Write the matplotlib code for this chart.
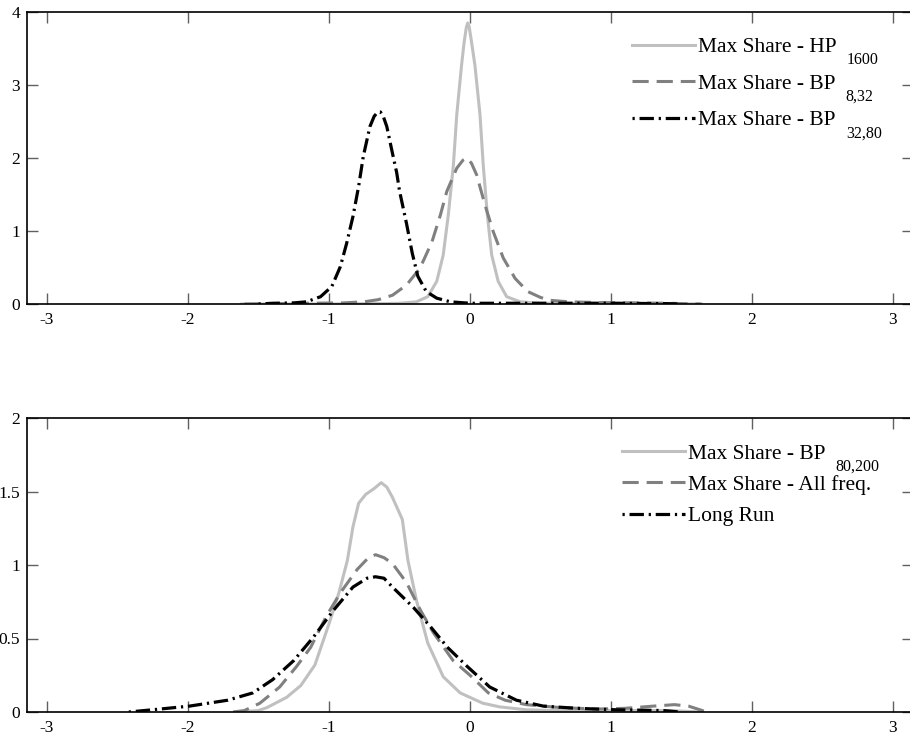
import matplotlib
matplotlib.use("Agg")
import matplotlib.pyplot as plt
from matplotlib.font_manager import FontProperties

plt.rcParams['font.family'] = ['Liberation Serif', 'DejaVu Serif']
plt.rcParams['axes.unicode_minus'] = False

# ---------------- top panel data ----------------
hp1600_x = [-1.62, -1.0, -0.6, -0.5, -0.38, -0.30, -0.236, -0.19, -0.154, -0.118, -0.094,
            -0.06, -0.042, -0.026, -0.016, -0.006, 0.01, 0.035, 0.071, 0.094, 0.123, 0.154,
            0.20, 0.26, 0.355, 0.5, 1.0, 1.3, 1.64]
hp1600_y = [0.0, 0.0, 0.005, 0.01, 0.03, 0.10, 0.31, 0.67, 1.22, 1.90, 2.59,
            3.27, 3.58, 3.79, 3.85, 3.80, 3.60, 3.27, 2.59, 1.90, 1.22, 0.67,
            0.31, 0.10, 0.03, 0.01, 0.01, 0.005, 0.0]

bp832_x = [-1.6, -1.2, -0.9, -0.75, -0.65, -0.55, -0.45, -0.355, -0.27, -0.21, -0.165,
           -0.094, -0.05, -0.023, 0.01, 0.047, 0.106, 0.165, 0.236, 0.32, 0.41, 0.5,
           0.57, 0.7, 0.9, 1.2, 1.4, 1.64]
bp832_y = [0.0, 0.01, 0.015, 0.03, 0.06, 0.12, 0.26, 0.49, 0.85, 1.22, 1.54,
           1.86, 1.97, 2.0, 1.93, 1.77, 1.36, 0.99, 0.63, 0.35, 0.17, 0.09,
           0.05, 0.03, 0.02, 0.015, 0.01, 0.0]

bp3280_x = [-1.5, -1.4, -1.25, -1.16, -1.06, -0.98, -0.92, -0.875, -0.83, -0.79, -0.757,
            -0.71, -0.68, -0.655, -0.635, -0.615, -0.59, -0.555, -0.52, -0.5, -0.45, -0.41,
            -0.37, -0.31, -0.236, -0.14, 0.0, 0.5, 1.0, 1.4, 1.5]
bp3280_y = [0.0, 0.01, 0.015, 0.03, 0.10, 0.24, 0.51, 0.83, 1.20, 1.61, 2.02,
            2.43, 2.57, 2.63, 2.63, 2.57, 2.43, 2.11, 1.80, 1.55, 1.10, 0.70,
            0.38, 0.17, 0.08, 0.03, 0.01, 0.01, 0.01, 0.005, 0.0]

# ---------------- bottom panel data ----------------
bp80200_x = [-1.65, -1.5, -1.44, -1.3, -1.2, -1.1, -1.0, -0.93, -0.87, -0.83, -0.79,
             -0.74, -0.68, -0.63, -0.59, -0.55, -0.48, -0.44, -0.38, -0.3, -0.19, -0.07,
             0.09, 0.21, 0.4, 0.6, 1.0, 1.4, 1.65]
bp80200_y = [0.0, 0.01, 0.03, 0.10, 0.18, 0.32, 0.60, 0.81, 1.03, 1.26, 1.42,
             1.48, 1.52, 1.56, 1.53, 1.46, 1.31, 1.03, 0.76, 0.47, 0.24, 0.13,
             0.06, 0.035, 0.015, 0.01, 0.01, 0.01, 0.0]

allfreq_x = [-1.68, -1.6, -1.49, -1.35, -1.23, -1.13, -1.02, -0.92, -0.8, -0.72, -0.67,
             -0.61, -0.55, -0.45, -0.35, -0.26, -0.12, 0.0, 0.13, 0.25, 0.4, 0.64,
             0.9, 1.1, 1.3, 1.45, 1.55, 1.68]
allfreq_y = [0.0, 0.01, 0.06, 0.17, 0.31, 0.44, 0.65, 0.81, 0.97, 1.05, 1.07,
             1.05, 1.01, 0.88, 0.69, 0.54, 0.35, 0.25, 0.13, 0.08, 0.05, 0.03,
             0.02, 0.025, 0.04, 0.05, 0.04, 0.0]

longrun_x = [-2.42, -2.2, -1.99, -1.72, -1.54, -1.4, -1.25, -1.11, -0.97, -0.83, -0.73,
             -0.67, -0.61, -0.55, -0.4, -0.28, -0.16, -0.02, 0.14, 0.33, 0.52, 0.76,
             1.04, 1.37, 1.49]
longrun_y = [0.0, 0.02, 0.04, 0.08, 0.13, 0.22, 0.35, 0.51, 0.69, 0.85, 0.91,
             0.92, 0.91, 0.85, 0.71, 0.58, 0.44, 0.31, 0.17, 0.08, 0.04, 0.025,
             0.015, 0.01, 0.0]

top_labels = ['Max Share - HP', 'Max Share - BP', 'Max Share - BP']
top_subs = ['1600', '8,32', '32,80']
bot_labels = ['Max Share - BP', 'Max Share - All freq.', 'Long Run']
bot_subs = ['80,200', '', '']

x_ticks = [-3, -2, -1, 0, 1, 2, 3]
top_yticks = [0, 1, 2, 3, 4]
bot_yticks = [0, 0.5, 1, 1.5, 2]
bot_yticklabels = ['0', '0.5', '1', '1.5', '2']

LIGHT = '#c0c0c0'
MID = '#808080'
BLACK = '#000000'
dash_style = (0, (5.3, 2.6))
dashdot_style = (0, (0.7, 1.5, 4.5, 1.5))
LEG_FS = 15.5
SUB_FS = 11.5

W, H = 910, 742
fig = plt.figure(figsize=(W / 100, H / 100), dpi=100)
ax1 = fig.add_axes([27 / W, 1 - 304 / H, 886 / W, 292 / H])
ax2 = fig.add_axes([27 / W, 1 - 712 / H, 886 / W, 294 / H])


def style(ax, yticks, ylabels, ylim):
    ax.set_xlim(-3.142, 3.142)
    ax.set_ylim(*ylim)
    ax.set_xticks(x_ticks)
    ax.set_xticklabels([str(t) for t in x_ticks])
    ax.set_yticks(yticks)
    ax.set_yticklabels(ylabels)
    ax.tick_params(direction='in', length=8, width=1.0, color='#606060',
                   top=True, right=True, labelsize=12.5, labelcolor='black')
    ax.tick_params(axis='x', pad=6)
    ax.tick_params(axis='y', pad=5)
    for s in ax.spines.values():
        s.set_linewidth(1.2)
        s.set_color('black')


l1, = ax1.plot(hp1600_x, hp1600_y, color=LIGHT, lw=2.2, solid_joinstyle='round')
l2, = ax1.plot(bp832_x, bp832_y, color=MID, lw=2.2, linestyle=dash_style)
l3, = ax1.plot(bp3280_x, bp3280_y, color=BLACK, lw=2.3, linestyle=dashdot_style)
style(ax1, top_yticks, [str(t) for t in top_yticks], (0, 4))
leg1 = ax1.legend([l1, l2, l3], top_labels, loc='upper left',
                  bbox_to_anchor=((632 - 27) / 886, 1 - 25 / 292),
                  frameon=False, fontsize=LEG_FS, handlelength=2.93, handletextpad=0.15,
                  labelspacing=0.77, borderaxespad=0.0, borderpad=0.0)

m1, = ax2.plot(bp80200_x, bp80200_y, color=LIGHT, lw=2.2, solid_joinstyle='round')
m2, = ax2.plot(allfreq_x, allfreq_y, color=MID, lw=2.2, linestyle=dash_style)
m3, = ax2.plot(longrun_x, longrun_y, color=BLACK, lw=2.3, linestyle=dashdot_style)
style(ax2, bot_yticks, bot_yticklabels, (0, 2))
leg2 = ax2.legend([m1, m2, m3], bot_labels, loc='upper left',
                  bbox_to_anchor=((622 - 27) / 886, 1 - 25.5 / 294),
                  frameon=False, fontsize=LEG_FS, handlelength=2.93, handletextpad=0.15,
                  labelspacing=0.52, borderaxespad=0.0, borderpad=0.0)

# subscripts placed after the legend texts, lowered as in the original
fig.canvas.draw()
renderer = fig.canvas.get_renderer()
fp = FontProperties(family=['Liberation Serif'], size=LEG_FS)
_, _, desc = renderer.get_text_width_height_descent('lp', fp, ismath=False)
for leg, subs in ((leg1, top_subs), (leg2, bot_subs)):
    for t, s in zip(leg.get_texts(), subs):
        if not s:
            continue
        bb = t.get_window_extent(renderer)
        baseline = bb.y0 + desc
        fig.text((bb.x1 + 10) / W, (baseline - 12) / H, s, fontsize=SUB_FS,
                 va='baseline', ha='left')

fig.savefig('out.png', dpi=100)
